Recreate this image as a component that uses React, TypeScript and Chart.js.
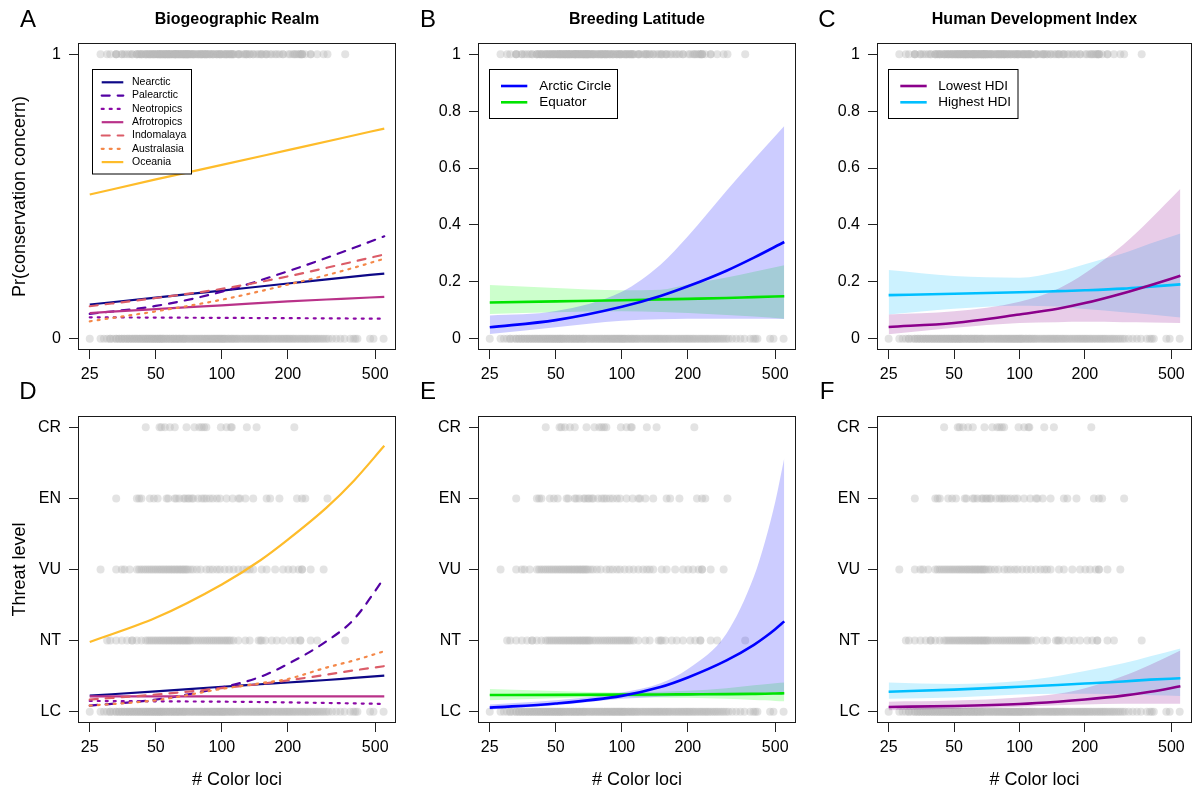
import React, { useEffect, useRef } from "react";
import { Chart, registerables } from "chart.js";

Chart.register(...registerables);

const FONT = "'Liberation Sans', Arial, Helvetica, sans-serif";
Chart.defaults.font.family = FONT;

// ---------------------------------------------------------------------------
// Species: number of colour loci, grouped by IUCN category
// ---------------------------------------------------------------------------
const LC_LOCI = [
  25, 28, 29, 30, 31, 31, 32, 33, 33, 34, 34, 35, 35, 36, 36, 37, 37, 38, 38, 39, 39, 40, 40, 41, 41,
  42, 42, 43, 43, 44, 44, 45, 45, 46, 46, 47, 47, 48, 48, 49, 49, 50, 50, 51, 51, 52, 52, 53, 53, 54,
  54, 55, 56, 56, 57, 58, 58, 59, 60, 60, 61, 62, 62, 63, 64, 64, 65, 66, 67, 67, 68, 69, 70, 71, 72,
  73, 74, 75, 76, 77, 78, 79, 80, 81, 82, 83, 84, 85, 86, 87, 88, 89, 90, 91, 92, 93, 94, 95, 96, 97,
  98, 99, 100, 101, 102, 103, 104, 106, 107, 108, 110, 111, 112, 114, 115, 117, 118, 120, 122, 124,
  126, 128, 130, 132, 134, 136, 138, 140, 142, 144, 146, 148, 150, 152, 155, 157, 159, 162, 164, 167,
  170, 173, 176, 179, 182, 185, 188, 191, 194, 197, 200, 203, 206, 210, 213, 217, 221, 225, 229, 233,
  237, 241, 245, 249, 254, 259, 264, 269, 274, 280, 286, 292, 299, 306, 318, 332, 347, 362, 385, 398,
  406, 415, 474, 491, 546,
];
const NT_LOCI = [
  30, 31, 33, 35, 37, 39, 39, 41, 43, 45, 46, 47, 48, 49, 50, 51, 52, 53, 54, 55, 56, 57, 58, 59, 60,
  61, 62, 63, 64, 65, 66, 67, 68, 69, 70, 71, 72, 74, 76, 78, 80, 82, 84, 86, 88, 90, 92, 94, 96, 98,
  100, 102, 104, 106, 108, 110, 113, 119, 128, 134, 147, 150, 152, 158, 169, 178, 190, 205, 216, 228,
  228, 254, 272, 365,
];
const VU_LOCI = [
  28, 33, 35, 36, 38, 41, 42, 43, 44, 45, 46, 47, 48, 49, 50, 51, 52, 53, 54, 55, 56, 57, 58, 59, 60,
  61, 62, 63, 64, 65, 66, 67, 68, 69, 70, 72, 74, 77, 80, 85, 88, 91, 95, 98, 103, 108, 113, 119, 125,
  130, 134, 139, 152, 160, 175, 190, 201, 211, 224, 232, 232, 254, 291,
];
const EN_LOCI = [
  33, 41, 42, 43, 47, 49, 51, 56, 57, 61, 62, 64, 67, 68, 70, 71, 73, 74, 78, 81, 83, 85, 88, 91, 95,
  98, 105, 112, 119, 121, 128, 139, 160, 166, 183, 220, 232, 240, 303,
];
const CR_LOCI = [45, 52, 53, 55, 58, 61, 69, 75, 79, 81, 83, 85, 99, 105, 110, 111, 130, 144, 214];

// ---------------------------------------------------------------------------
// Axes
// ---------------------------------------------------------------------------
const X_TICKS = [25, 50, 100, 200, 500];
const PR_TICKS_REALM = [0, 1];
const PR_TICKS = [0, 0.2, 0.4, 0.6, 0.8, 1];
const THREAT_TICKS = [0, 1, 2, 3, 4];
const THREAT_LABELS = ["LC", "NT", "VU", "EN", "CR"];

// ---------------------------------------------------------------------------
// Biogeographic realm predictions
// ---------------------------------------------------------------------------
const REALM_NAMES = ["Nearctic", "Palearctic", "Neotropics", "Afrotropics", "Indomalaya", "Australasia", "Oceania"];
const REALM_COLORS = ["#0D0887", "#5402A3", "#8B0AA5", "#B93289", "#DB5C68", "#F48849", "#FEBC2A"];
const REALM_LTY = ["solid", "dashed", "dotted", "solid", "dashed", "dotted", "solid"];

const LOCI_REALM_PR = [25, 50, 100, 200, 350, 550];
const PR_NEARCTIC = [0.120, 0.144, 0.169, 0.194, 0.214, 0.229];
const PR_PALEARCTIC = [0.087, 0.115, 0.165, 0.237, 0.303, 0.360];
const PR_NEOTROPICS = [0.075, 0.074, 0.073, 0.072, 0.071, 0.070];
const PR_AFROTROPICS = [0.090, 0.104, 0.117, 0.131, 0.140, 0.147];
const PR_INDOMALAYA = [0.114, 0.143, 0.175, 0.219, 0.261, 0.296];
const PR_AUSTRALASIA = [0.061, 0.096, 0.137, 0.190, 0.237, 0.281];
const PR_OCEANIA = [0.507, 0.560, 0.611, 0.663, 0.705, 0.739];

const LOCI_GRID = [25, 50, 100, 150, 200, 300, 400, 550];
const TL_NEARCTIC = [0.225, 0.285, 0.35, 0.385, 0.41, 0.445, 0.475, 0.506];
const TL_PALEARCTIC = [0.084, 0.17, 0.34, 0.49, 0.67, 0.99, 1.30, 1.88];
const TL_NEOTROPICS = [0.15, 0.145, 0.14, 0.135, 0.13, 0.122, 0.116, 0.108];
const TL_AFROTROPICS = [0.216, 0.216, 0.216, 0.216, 0.216, 0.216, 0.216, 0.216];
const TL_INDOMALAYA = [0.17, 0.24, 0.33, 0.39, 0.44, 0.52, 0.58, 0.64];
const TL_AUSTRALASIA = [0.084, 0.16, 0.32, 0.40, 0.46, 0.62, 0.72, 0.85];
const TL_OCEANIA = [0.98, 1.32, 1.79, 2.13, 2.42, 2.87, 3.25, 3.74];

// ---------------------------------------------------------------------------
// Breeding latitude predictions (with 95% bands)
// ---------------------------------------------------------------------------
const LAT_NAMES = ["Arctic Circle", "Equator"];
const ARCTIC_COLOR = "#0000FF";
const ARCTIC_BAND = "rgba(0,0,255,0.2)";
const EQUATOR_COLOR = "#00E400";
const EQUATOR_BAND = "rgba(0,255,0,0.2)";

const PR_ARCTIC = [0.040, 0.065, 0.112, 0.150, 0.184, 0.239, 0.285, 0.340];
const PR_ARCTIC_HI = [0.081, 0.097, 0.165, 0.26, 0.36, 0.52, 0.63, 0.748];
const PR_ARCTIC_LO = [0.016, 0.040, 0.063, 0.068, 0.070, 0.070, 0.070, 0.069];
const PR_EQUATOR = [0.127, 0.131, 0.135, 0.138, 0.140, 0.143, 0.146, 0.149];
const PR_EQUATOR_HI = [0.189, 0.178, 0.170, 0.172, 0.19, 0.215, 0.235, 0.258];
const PR_EQUATOR_LO = [0.087, 0.093, 0.096, 0.094, 0.090, 0.083, 0.078, 0.070];

const LOCI_LAT_TL = [25, 50, 100, 150, 200, 300, 400, 450, 500, 550];
const TL_ARCTIC = [0.056, 0.115, 0.222, 0.345, 0.48, 0.72, 0.94, 1.05, 1.16, 1.27];
const TL_ARCTIC_HI = [0.10, 0.16, 0.27, 0.40, 0.60, 1.10, 1.90, 2.40, 2.95, 3.57];
const TL_ARCTIC_LO = [0.03, 0.09, 0.18, 0.21, 0.22, 0.23, 0.235, 0.237, 0.24, 0.24];
const TL_EQUATOR = [0.234, 0.236, 0.239, 0.241, 0.243, 0.246, 0.25, 0.252, 0.255, 0.258];
const TL_EQUATOR_HI = [0.32, 0.29, 0.27, 0.28, 0.295, 0.33, 0.37, 0.385, 0.40, 0.41];
const TL_EQUATOR_LO = [0.16, 0.19, 0.205, 0.20, 0.195, 0.18, 0.165, 0.16, 0.15, 0.145];

// ---------------------------------------------------------------------------
// Human Development Index predictions (with 95% bands)
// ---------------------------------------------------------------------------
const HDI_NAMES = ["Lowest HDI", "Highest HDI"];
const LOW_HDI_COLOR = "#8B008B";
const LOW_HDI_BAND = "rgba(139,0,139,0.2)";
const HIGH_HDI_COLOR = "#00BFFF";
const HIGH_HDI_BAND = "rgba(0,191,255,0.2)";

const PR_LOW_HDI = [0.041, 0.055, 0.085, 0.105, 0.125, 0.16, 0.188, 0.221];
const PR_LOW_HDI_HI = [0.085, 0.096, 0.13, 0.175, 0.23, 0.33, 0.42, 0.527];
const PR_LOW_HDI_LO = [0.015, 0.038, 0.055, 0.058, 0.059, 0.058, 0.057, 0.055];
const PR_HIGH_HDI = [0.153, 0.158, 0.163, 0.167, 0.170, 0.176, 0.183, 0.191];
const PR_HIGH_HDI_HI = [0.241, 0.220, 0.214, 0.235, 0.262, 0.300, 0.335, 0.370];
const PR_HIGH_HDI_LO = [0.085, 0.105, 0.116, 0.113, 0.104, 0.093, 0.085, 0.074];

const TL_LOW_HDI = [0.066, 0.08, 0.108, 0.14, 0.17, 0.225, 0.28, 0.356];
const TL_LOW_HDI_HI = [0.14, 0.155, 0.20, 0.25, 0.33, 0.50, 0.66, 0.86];
const TL_LOW_HDI_LO = [0.02, 0.04, 0.07, 0.09, 0.10, 0.11, 0.11, 0.11];
const TL_HIGH_HDI = [0.28, 0.31, 0.35, 0.375, 0.395, 0.425, 0.45, 0.47];
const TL_HIGH_HDI_HI = [0.41, 0.39, 0.43, 0.50, 0.57, 0.68, 0.78, 0.89];
const TL_HIGH_HDI_LO = [0.18, 0.20, 0.24, 0.25, 0.25, 0.24, 0.23, 0.22];

// ---------------------------------------------------------------------------
// Styling / layout
// ---------------------------------------------------------------------------
const DOT_FILL = "rgba(185,185,185,0.4)";
const DOT_RADIUS = 4;
const DASH: Record<string, number[]> = { solid: [], dashed: [8, 8], dotted: [2, 6] };

const COL_LEFT = [0, 400, 799];
const COL_WIDTH = [400, 400, 397];
const ROW_TOP = [0, 372];
const ROW_HEIGHT = [396, 420];
const AREA_TOP = [43, 44];
const AREA_BOTTOM = [350, 351];
const AREA_LEFT = 78;
const AREA_RIGHT = 396;
const X_MIN = 22.1;
const X_MAX = 622;

type Pt = { x: number; y: number };
const pts = (xs: number[], ys: number[]): Pt[] => xs.map((x, i) => ({ x, y: ys[i] }));

function curve(xs: number[], ys: number[], color: string, lty: string, width: number, order: number) {
  return {
    data: pts(xs, ys),
    borderColor: color,
    borderWidth: width,
    borderDash: DASH[lty],
    borderCapStyle: lty === "solid" ? "butt" : "round",
    pointRadius: 0,
    fill: false,
    cubicInterpolationMode: "monotone",
    order,
  };
}

function band(xs: number[], hi: number[], lo: number[], color: string, order: number) {
  return [
    {
      data: pts(xs, hi),
      borderColor: "rgba(0,0,0,0)",
      borderWidth: 0,
      pointRadius: 0,
      fill: "+1",
      backgroundColor: color,
      cubicInterpolationMode: "monotone",
      order,
    },
    {
      data: pts(xs, lo),
      borderColor: "rgba(0,0,0,0)",
      borderWidth: 0,
      pointRadius: 0,
      fill: false,
      cubicInterpolationMode: "monotone",
      order,
    },
  ];
}

function dots(loci: number[], level: number) {
  return {
    data: loci.map((x) => ({ x, y: level })),
    showLine: false,
    pointRadius: DOT_RADIUS,
    pointBackgroundColor: DOT_FILL,
    pointBorderColor: "rgba(0,0,0,0)",
    pointBorderWidth: 0,
    fill: false,
    order: 100,
  };
}

const CONCERN_LOCI = [...NT_LOCI, ...VU_LOCI, ...EN_LOCI, ...CR_LOCI];
const binaryDots = () => [dots(LC_LOCI, 0), dots(CONCERN_LOCI, 1)];
const threatDots = () => [
  dots(LC_LOCI, 0),
  dots(NT_LOCI, 1),
  dots(VU_LOCI, 2),
  dots(EN_LOCI, 3),
  dots(CR_LOCI, 4),
];

const REALM_PR = [PR_NEARCTIC, PR_PALEARCTIC, PR_NEOTROPICS, PR_AFROTROPICS, PR_INDOMALAYA, PR_AUSTRALASIA, PR_OCEANIA];
const REALM_TL = [TL_NEARCTIC, TL_PALEARCTIC, TL_NEOTROPICS, TL_AFROTROPICS, TL_INDOMALAYA, TL_AUSTRALASIA, TL_OCEANIA];

const realmCurves = (xs: number[], series: number[][]) =>
  series.map((ys, i) => curve(xs, ys, REALM_COLORS[i], REALM_LTY[i], 2.2, 20 - i));

type LegendSpec = {
  x: number; y: number; w: number; h: number;
  lineX0: number; lineX1: number; textX: number;
  rowY: number; rowStep: number; fontSize: number; lineWidth: number;
  items: { label: string; color: string; lty: string }[];
};

const REALM_LEGEND: LegendSpec = {
  x: 92.5, y: 69.5, w: 99, h: 104.5,
  lineX0: 101.7, lineX1: 123.3, textX: 132,
  rowY: 82.3, rowStep: 13.3, fontSize: 10.5, lineWidth: 2.2,
  items: REALM_NAMES.map((label, i) => ({ label, color: REALM_COLORS[i], lty: REALM_LTY[i] })),
};
const LAT_LEGEND: LegendSpec = {
  x: 89.5, y: 69.5, w: 128, h: 49,
  lineX0: 101, lineX1: 127.3, textX: 139.3,
  rowY: 86, rowStep: 16.3, fontSize: 13.5, lineWidth: 2.6,
  items: [
    { label: LAT_NAMES[0], color: ARCTIC_COLOR, lty: "solid" },
    { label: LAT_NAMES[1], color: EQUATOR_COLOR, lty: "solid" },
  ],
};
const HDI_LEGEND: LegendSpec = {
  x: 89.5, y: 69.5, w: 129.5, h: 49,
  lineX0: 101.3, lineX1: 127.7, textX: 139.3,
  rowY: 86, rowStep: 16.3, fontSize: 13.5, lineWidth: 2.6,
  items: [
    { label: HDI_NAMES[0], color: LOW_HDI_COLOR, lty: "solid" },
    { label: HDI_NAMES[1], color: HIGH_HDI_COLOR, lty: "solid" },
  ],
};

type PanelSpec = {
  letter: string;
  title?: string;
  col: number;
  row: number;
  yKind: "realm" | "pr" | "threat";
  yTitle?: string;
  xTitle?: string;
  legend?: LegendSpec;
  datasets: () => any[];
};

const PANELS: PanelSpec[] = [
  {
    letter: "A", title: "Biogeographic Realm", col: 0, row: 0, yKind: "realm",
    yTitle: "Pr(conservation concern)", legend: REALM_LEGEND,
    datasets: () => [...realmCurves(LOCI_REALM_PR, REALM_PR), ...binaryDots()],
  },
  {
    letter: "B", title: "Breeding Latitude", col: 1, row: 0, yKind: "pr", legend: LAT_LEGEND,
    datasets: () => [
      curve(LOCI_GRID, PR_ARCTIC, ARCTIC_COLOR, "solid", 2.6, 2),
      curve(LOCI_GRID, PR_EQUATOR, EQUATOR_COLOR, "solid", 2.6, 3),
      ...band(LOCI_GRID, PR_ARCTIC_HI, PR_ARCTIC_LO, ARCTIC_BAND, 49),
      ...band(LOCI_GRID, PR_EQUATOR_HI, PR_EQUATOR_LO, EQUATOR_BAND, 50),
      ...binaryDots(),
    ],
  },
  {
    letter: "C", title: "Human Development Index", col: 2, row: 0, yKind: "pr", legend: HDI_LEGEND,
    datasets: () => [
      curve(LOCI_GRID, PR_LOW_HDI, LOW_HDI_COLOR, "solid", 2.6, 2),
      curve(LOCI_GRID, PR_HIGH_HDI, HIGH_HDI_COLOR, "solid", 2.6, 3),
      ...band(LOCI_GRID, PR_LOW_HDI_HI, PR_LOW_HDI_LO, LOW_HDI_BAND, 49),
      ...band(LOCI_GRID, PR_HIGH_HDI_HI, PR_HIGH_HDI_LO, HIGH_HDI_BAND, 50),
      ...binaryDots(),
    ],
  },
  {
    letter: "D", col: 0, row: 1, yKind: "threat", yTitle: "Threat level", xTitle: "# Color loci",
    datasets: () => [...realmCurves(LOCI_GRID, REALM_TL), ...threatDots()],
  },
  {
    letter: "E", col: 1, row: 1, yKind: "threat", xTitle: "# Color loci",
    datasets: () => [
      curve(LOCI_LAT_TL, TL_ARCTIC, ARCTIC_COLOR, "solid", 2.6, 2),
      curve(LOCI_LAT_TL, TL_EQUATOR, EQUATOR_COLOR, "solid", 2.6, 3),
      ...band(LOCI_LAT_TL, TL_ARCTIC_HI, TL_ARCTIC_LO, ARCTIC_BAND, 49),
      ...band(LOCI_LAT_TL, TL_EQUATOR_HI, TL_EQUATOR_LO, EQUATOR_BAND, 50),
      ...threatDots(),
    ],
  },
  {
    letter: "F", col: 2, row: 1, yKind: "threat", xTitle: "# Color loci",
    datasets: () => [
      curve(LOCI_GRID, TL_LOW_HDI, LOW_HDI_COLOR, "solid", 2.6, 2),
      curve(LOCI_GRID, TL_HIGH_HDI, HIGH_HDI_COLOR, "solid", 2.6, 3),
      ...band(LOCI_GRID, TL_LOW_HDI_HI, TL_LOW_HDI_LO, LOW_HDI_BAND, 49),
      ...band(LOCI_GRID, TL_HIGH_HDI_HI, TL_HIGH_HDI_LO, HIGH_HDI_BAND, 50),
      ...threatDots(),
    ],
  },
];

// ---------------------------------------------------------------------------
// Plugins: plot frame, panel letter + heading, boxed legend
// ---------------------------------------------------------------------------
const framePlugin = {
  id: "plotFrame",
  afterDatasetsDraw(chart: any) {
    const { ctx, chartArea: a } = chart;
    ctx.save();
    ctx.strokeStyle = "#1a1a1a";
    ctx.lineWidth = 1;
    ctx.setLineDash([]);
    ctx.strokeRect(Math.round(a.left) + 0.5, Math.round(a.top) + 0.5, Math.round(a.right - a.left) - 1, Math.round(a.bottom - a.top) - 1);
    ctx.restore();
  },
};

function headingPlugin(p: PanelSpec) {
  return {
    id: "panelHeading",
    afterDraw(chart: any) {
      const { ctx, chartArea: a } = chart;
      ctx.save();
      ctx.fillStyle = "#000";
      ctx.textBaseline = "alphabetic";
      ctx.textAlign = "center";
      ctx.font = `24px ${FONT}`;
      ctx.fillText(p.letter, 28, p.row === 0 ? 26.5 : 27);
      if (p.title) {
        ctx.font = `bold 16px ${FONT}`;
        ctx.fillText(p.title, (a.left + a.right) / 2, 24);
      }
      ctx.restore();
    },
  };
}

function legendPlugin(spec?: LegendSpec) {
  return {
    id: "boxLegend",
    afterDatasetsDraw(chart: any) {
      if (!spec) return;
      const ctx = chart.ctx;
      ctx.save();
      ctx.fillStyle = "#fff";
      ctx.fillRect(spec.x, spec.y, spec.w, spec.h);
      ctx.strokeStyle = "#000";
      ctx.lineWidth = 1;
      ctx.setLineDash([]);
      ctx.strokeRect(spec.x, spec.y, spec.w, spec.h);
      spec.items.forEach((it, i) => {
        const y = spec.rowY + i * spec.rowStep;
        ctx.beginPath();
        ctx.setLineDash(DASH[it.lty]);
        ctx.lineCap = it.lty === "solid" ? "butt" : "round";
        ctx.strokeStyle = it.color;
        ctx.lineWidth = spec.lineWidth;
        ctx.moveTo(spec.lineX0, y);
        ctx.lineTo(spec.lineX1, y);
        ctx.stroke();
        ctx.setLineDash([]);
        ctx.fillStyle = "#000";
        ctx.font = `${spec.fontSize}px ${FONT}`;
        ctx.textAlign = "left";
        ctx.textBaseline = "middle";
        ctx.fillText(it.label, spec.textX, y);
      });
      ctx.restore();
    },
  };
}

function buildConfig(p: PanelSpec): any {
  const width = COL_WIDTH[p.col];
  const height = ROW_HEIGHT[p.row];
  const top = AREA_TOP[p.row];
  const bottom = AREA_BOTTOM[p.row];
  const threat = p.yKind === "threat";
  const yTicks = threat ? THREAT_TICKS : p.yKind === "realm" ? PR_TICKS_REALM : PR_TICKS;
  const yMin = threat ? -0.16 : -0.04;
  const yMax = threat ? 4.16 : 1.04;
  const yLabel = (v: number) =>
    threat ? THREAT_LABELS[Math.round(v)] : v === 0 ? "0" : v === 1 ? "1" : v.toFixed(1);

  return {
    type: "line",
    data: { datasets: p.datasets() },
    options: {
      responsive: false,
      animation: false,
      devicePixelRatio: 1,
      events: [],
      layout: { padding: { left: 0, right: width - AREA_RIGHT, top, bottom: 0 } },
      scales: {
        x: {
          type: "logarithmic",
          bounds: "data",
          min: X_MIN,
          max: X_MAX,
          afterBuildTicks: (s: any) => {
            s.ticks = X_TICKS.map((v) => ({ value: v }));
          },
          afterFit: (s: any) => {
            s.height = height - bottom;
          },
          ticks: {
            autoSkip: false,
            maxRotation: 0,
            minRotation: 0,
            padding: 6,
            color: "#000",
            font: { size: 16 },
            callback: (v: number) => String(v),
          },
          grid: { drawOnChartArea: false, drawTicks: true, tickLength: 9, color: "#222", lineWidth: 1 },
          border: { display: false },
          title: {
            display: !!p.xTitle,
            text: p.xTitle || "",
            color: "#000",
            font: { size: 18 },
            padding: { top: 0, bottom: 1.2 },
          },
        },
        y: {
          type: "linear",
          bounds: "data",
          min: yMin,
          max: yMax,
          afterBuildTicks: (s: any) => {
            s.ticks = yTicks.map((v) => ({ value: v }));
          },
          afterFit: (s: any) => {
            s.width = AREA_LEFT;
          },
          ticks: {
            autoSkip: false,
            padding: 8,
            color: "#000",
            font: { size: 16 },
            callback: (v: number) => yLabel(v),
          },
          grid: { drawOnChartArea: false, drawTicks: true, tickLength: 9, color: "#222", lineWidth: 1 },
          border: { display: false },
          title: {
            display: !!p.yTitle,
            text: p.yTitle || "",
            color: "#000",
            font: { size: 18 },
            padding: { top: 9.7, bottom: 0 },
          },
        },
      },
      plugins: {
        legend: { display: false },
        tooltip: { enabled: false },
        title: { display: false },
      },
    },
    plugins: [framePlugin, headingPlugin(p), legendPlugin(p.legend)],
  };
}

function Panel({ spec }: { spec: PanelSpec }) {
  const ref = useRef<HTMLCanvasElement>(null);
  const width = COL_WIDTH[spec.col];
  const height = ROW_HEIGHT[spec.row];
  useEffect(() => {
    if (!ref.current) return;
    const chart = new Chart(ref.current, buildConfig(spec));
    return () => chart.destroy();
  }, [spec]);
  return (
    <canvas
      ref={ref}
      width={width}
      height={height}
      style={{
        position: "absolute",
        left: COL_LEFT[spec.col],
        top: ROW_TOP[spec.row],
        width,
        height,
      }}
    />
  );
}

export default function App() {
  return (
    <div
      style={{
        position: "absolute",
        left: 0,
        top: 0,
        width: 1196,
        height: 792,
        background: "#fff",
        overflow: "hidden",
      }}
    >
      {PANELS.map((p) => (
        <Panel key={p.letter} spec={p} />
      ))}
    </div>
  );
}
